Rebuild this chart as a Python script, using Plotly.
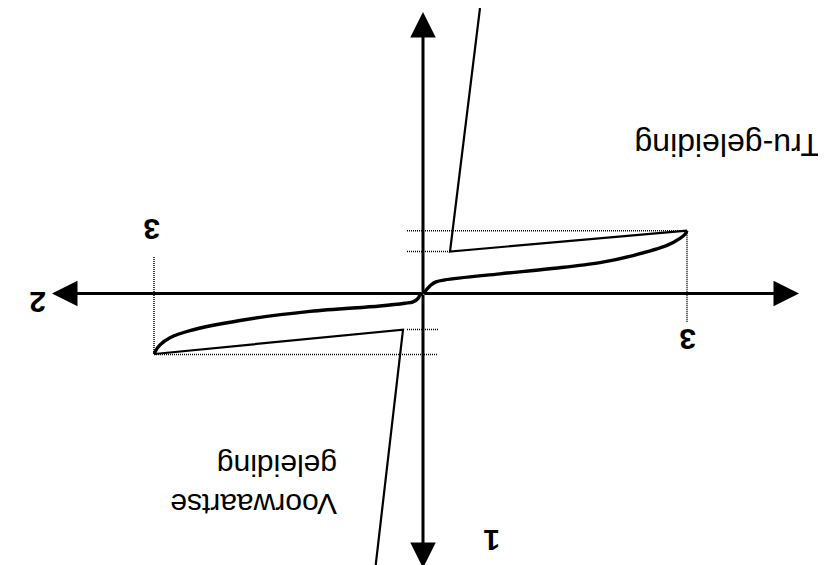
import plotly.graph_objects as go

# Schematic diode characteristic (drawn upside down, as in the source figure)
# Coordinates are in px-like units with the origin where the two axes cross.

# forward conduction curve (thick, upper right)
fwd_x = [0, 4, 8, 13, 22, 77, 127, 177, 210, 244, 257, 262, 264]
fwd_y = [0, 4.5, 8.5, 11.5, 13.5, 19.5, 24.5, 30.5, 37.5, 47.5, 54.5, 58.5, 62]

# reverse curve (thick, lower left)
rev_x = [0, -3, -5, -10, -18, -43, -113, -183, -233, -253, -263, -268, -268.5]
rev_y = [0, -1.5, -4.8, -8.2, -9.5, -12.2, -17.5, -26.5, -36.5, -43.5, -50.5, -57.5, -59.5]

# thin approximation lines
up_thin_x = [264, 27, 57]
up_thin_y = [62, 41.5, 281.5]
lo_thin_x = [-268.5, -20, -48]
lo_thin_y = [-59.5, -35.5, -273.5]

# dotted guide lines: (x0, y0, x1, y1)
guides = [
    (-16, 62, 264, 62),
    (-16, 41.5, 27, 41.5),
    (-16, -35.5, 15, -35.5),
    (-269, -60, 15, -60),
    (264, 62, 264, -28.5),
    (-269, -59.5, -269, 36.5),
]

# axis extents (arrow tips)
x_axis = [-371, 376]
y_axis = [-270.5, 277.5]

# labels: text, x, y, size, bold
labels = [
    ("3", 265, -44.5, 30, True),
    ("3", -271, 62.5, 30, True),
    ("1", 69, -243.5, 30, True),
    ("2", -385, -9.5, 30, True),
    ("Tru-geleiding", 304, 146.5, 32, False),
]

FONT = "Liberation Sans, Arial, sans-serif"

fig = go.Figure()

for x0, y0, x1, y1 in guides:
    fig.add_trace(go.Scatter(x=[x0, x1], y=[y0, y1], mode="lines",
                             line=dict(color="black", width=1.5, dash="1px,1px"),
                             hoverinfo="skip"))

fig.add_trace(go.Scatter(x=up_thin_x, y=up_thin_y, mode="lines",
                         line=dict(color="black", width=2.2), hoverinfo="skip"))
fig.add_trace(go.Scatter(x=lo_thin_x, y=lo_thin_y, mode="lines",
                         line=dict(color="black", width=2.2), hoverinfo="skip"))

fig.add_trace(go.Scatter(x=fwd_x, y=fwd_y, mode="lines", line_shape="spline",
                         line=dict(color="black", width=3.4), hoverinfo="skip"))
fig.add_trace(go.Scatter(x=rev_x, y=rev_y, mode="lines", line_shape="spline",
                         line=dict(color="black", width=3.4), hoverinfo="skip"))

# axes with arrowheads at both ends
for tip in x_axis:
    fig.add_annotation(x=tip, y=0, ax=0, ay=0, axref="x", ayref="y",
                       xref="x", yref="y", text="", showarrow=True,
                       arrowhead=2, arrowsize=1.7, arrowwidth=3, arrowcolor="black")
for tip in y_axis:
    fig.add_annotation(x=0, y=tip, ax=0, ay=0, axref="x", ayref="y",
                       xref="x", yref="y", text="", showarrow=True,
                       arrowhead=2, arrowsize=1.7, arrowwidth=3, arrowcolor="black")

for txt, x, y, size, bold in labels:
    fig.add_annotation(x=x, y=y, xref="x", yref="y", showarrow=False,
                       text=f"<b>{txt}</b>" if bold else txt, textangle=180,
                       font=dict(family=FONT, size=size, color="black"))

fig.add_annotation(x=-169, y=-188.5, xref="x", yref="y", showarrow=False,
                   text="Voorwaartse<br>geleiding", textangle=180, align="left",
                   font=dict(family=FONT, size=30, color="black"))

# the page body adds an 8px offset, so the figure is 8px smaller and the
# ranges are shifted to keep the origin where it is in the reference
fig.update_layout(
    width=818, height=557,
    margin=dict(l=0, r=0, t=0, b=0),
    paper_bgcolor="white", plot_bgcolor="white",
    showlegend=False,
    xaxis=dict(range=[-415, 403], visible=False, fixedrange=True),
    yaxis=dict(range=[-267.5, 281.5], visible=False, fixedrange=True),
)

fig.write_html("out.html")
